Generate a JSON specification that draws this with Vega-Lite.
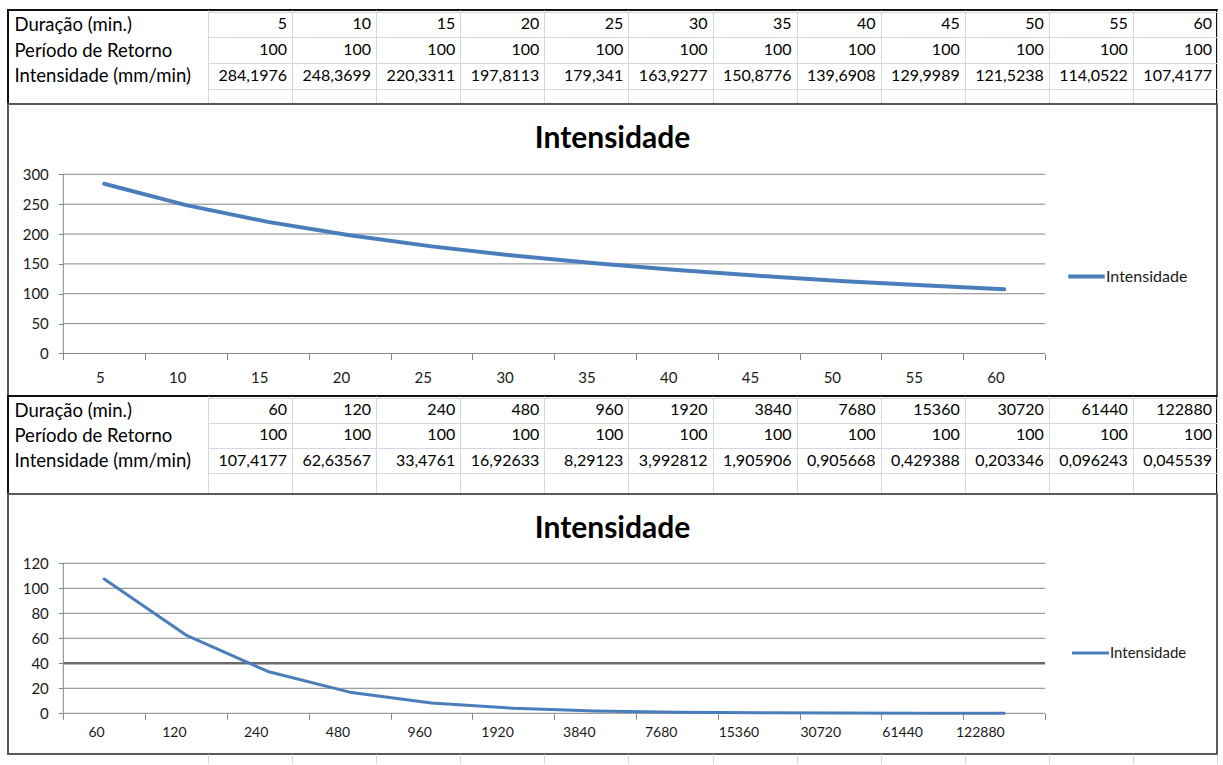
{
  "$schema": "https://vega.github.io/schema/vega-lite/v6.json",
  "background": "white",
  "padding": {"left": 7, "top": 0, "right": 5, "bottom": 0},
  "spacing": 0,
  "bounds": "flush",
  "resolve": {"scale": {"color": "independent"}, "legend": {"color": "independent"}},
  "config": {
    "font": "Lato",
    "view": {"stroke": "#262626", "strokeWidth": 2},
    "axis": {"labelFont": "Lato", "labelColor": "#1a1a1a"},
    "title": {"font": "Lato", "color": "#000000"}
  },
  "datasets": {
    "tabela1": [
      {"linha": "Duração (min.)", "coluna": 1, "valor": "5"},
      {"linha": "Duração (min.)", "coluna": 2, "valor": "10"},
      {"linha": "Duração (min.)", "coluna": 3, "valor": "15"},
      {"linha": "Duração (min.)", "coluna": 4, "valor": "20"},
      {"linha": "Duração (min.)", "coluna": 5, "valor": "25"},
      {"linha": "Duração (min.)", "coluna": 6, "valor": "30"},
      {"linha": "Duração (min.)", "coluna": 7, "valor": "35"},
      {"linha": "Duração (min.)", "coluna": 8, "valor": "40"},
      {"linha": "Duração (min.)", "coluna": 9, "valor": "45"},
      {"linha": "Duração (min.)", "coluna": 10, "valor": "50"},
      {"linha": "Duração (min.)", "coluna": 11, "valor": "55"},
      {"linha": "Duração (min.)", "coluna": 12, "valor": "60"},
      {"linha": "Período de Retorno", "coluna": 1, "valor": "100"},
      {"linha": "Período de Retorno", "coluna": 2, "valor": "100"},
      {"linha": "Período de Retorno", "coluna": 3, "valor": "100"},
      {"linha": "Período de Retorno", "coluna": 4, "valor": "100"},
      {"linha": "Período de Retorno", "coluna": 5, "valor": "100"},
      {"linha": "Período de Retorno", "coluna": 6, "valor": "100"},
      {"linha": "Período de Retorno", "coluna": 7, "valor": "100"},
      {"linha": "Período de Retorno", "coluna": 8, "valor": "100"},
      {"linha": "Período de Retorno", "coluna": 9, "valor": "100"},
      {"linha": "Período de Retorno", "coluna": 10, "valor": "100"},
      {"linha": "Período de Retorno", "coluna": 11, "valor": "100"},
      {"linha": "Período de Retorno", "coluna": 12, "valor": "100"},
      {"linha": "Intensidade (mm/min)", "coluna": 1, "valor": "284,1976"},
      {"linha": "Intensidade (mm/min)", "coluna": 2, "valor": "248,3699"},
      {"linha": "Intensidade (mm/min)", "coluna": 3, "valor": "220,3311"},
      {"linha": "Intensidade (mm/min)", "coluna": 4, "valor": "197,8113"},
      {"linha": "Intensidade (mm/min)", "coluna": 5, "valor": "179,341"},
      {"linha": "Intensidade (mm/min)", "coluna": 6, "valor": "163,9277"},
      {"linha": "Intensidade (mm/min)", "coluna": 7, "valor": "150,8776"},
      {"linha": "Intensidade (mm/min)", "coluna": 8, "valor": "139,6908"},
      {"linha": "Intensidade (mm/min)", "coluna": 9, "valor": "129,9989"},
      {"linha": "Intensidade (mm/min)", "coluna": 10, "valor": "121,5238"},
      {"linha": "Intensidade (mm/min)", "coluna": 11, "valor": "114,0522"},
      {"linha": "Intensidade (mm/min)", "coluna": 12, "valor": "107,4177"}
    ],
    "tabela2": [
      {"linha": "Duração (min.)", "coluna": 1, "valor": "60"},
      {"linha": "Duração (min.)", "coluna": 2, "valor": "120"},
      {"linha": "Duração (min.)", "coluna": 3, "valor": "240"},
      {"linha": "Duração (min.)", "coluna": 4, "valor": "480"},
      {"linha": "Duração (min.)", "coluna": 5, "valor": "960"},
      {"linha": "Duração (min.)", "coluna": 6, "valor": "1920"},
      {"linha": "Duração (min.)", "coluna": 7, "valor": "3840"},
      {"linha": "Duração (min.)", "coluna": 8, "valor": "7680"},
      {"linha": "Duração (min.)", "coluna": 9, "valor": "15360"},
      {"linha": "Duração (min.)", "coluna": 10, "valor": "30720"},
      {"linha": "Duração (min.)", "coluna": 11, "valor": "61440"},
      {"linha": "Duração (min.)", "coluna": 12, "valor": "122880"},
      {"linha": "Período de Retorno", "coluna": 1, "valor": "100"},
      {"linha": "Período de Retorno", "coluna": 2, "valor": "100"},
      {"linha": "Período de Retorno", "coluna": 3, "valor": "100"},
      {"linha": "Período de Retorno", "coluna": 4, "valor": "100"},
      {"linha": "Período de Retorno", "coluna": 5, "valor": "100"},
      {"linha": "Período de Retorno", "coluna": 6, "valor": "100"},
      {"linha": "Período de Retorno", "coluna": 7, "valor": "100"},
      {"linha": "Período de Retorno", "coluna": 8, "valor": "100"},
      {"linha": "Período de Retorno", "coluna": 9, "valor": "100"},
      {"linha": "Período de Retorno", "coluna": 10, "valor": "100"},
      {"linha": "Período de Retorno", "coluna": 11, "valor": "100"},
      {"linha": "Período de Retorno", "coluna": 12, "valor": "100"},
      {"linha": "Intensidade (mm/min)", "coluna": 1, "valor": "107,4177"},
      {"linha": "Intensidade (mm/min)", "coluna": 2, "valor": "62,63567"},
      {"linha": "Intensidade (mm/min)", "coluna": 3, "valor": "33,4761"},
      {"linha": "Intensidade (mm/min)", "coluna": 4, "valor": "16,92633"},
      {"linha": "Intensidade (mm/min)", "coluna": 5, "valor": "8,29123"},
      {"linha": "Intensidade (mm/min)", "coluna": 6, "valor": "3,992812"},
      {"linha": "Intensidade (mm/min)", "coluna": 7, "valor": "1,905906"},
      {"linha": "Intensidade (mm/min)", "coluna": 8, "valor": "0,905668"},
      {"linha": "Intensidade (mm/min)", "coluna": 9, "valor": "0,429388"},
      {"linha": "Intensidade (mm/min)", "coluna": 10, "valor": "0,203346"},
      {"linha": "Intensidade (mm/min)", "coluna": 11, "valor": "0,096243"},
      {"linha": "Intensidade (mm/min)", "coluna": 12, "valor": "0,045539"}
    ],
    "tabela3": [
      {"coluna": 1, "valor": ""}, {"coluna": 2, "valor": ""}, {"coluna": 3, "valor": ""},
      {"coluna": 4, "valor": ""}, {"coluna": 5, "valor": ""}, {"coluna": 6, "valor": ""},
      {"coluna": 7, "valor": ""}, {"coluna": 8, "valor": ""}, {"coluna": 9, "valor": ""},
      {"coluna": 10, "valor": ""}, {"coluna": 11, "valor": ""}, {"coluna": 12, "valor": ""}
    ],
    "serie1": [
      {"duracao": "5", "intensidade": 284.1976, "serie": "Intensidade"},
      {"duracao": "10", "intensidade": 248.3699, "serie": "Intensidade"},
      {"duracao": "15", "intensidade": 220.3311, "serie": "Intensidade"},
      {"duracao": "20", "intensidade": 197.8113, "serie": "Intensidade"},
      {"duracao": "25", "intensidade": 179.341, "serie": "Intensidade"},
      {"duracao": "30", "intensidade": 163.9277, "serie": "Intensidade"},
      {"duracao": "35", "intensidade": 150.8776, "serie": "Intensidade"},
      {"duracao": "40", "intensidade": 139.6908, "serie": "Intensidade"},
      {"duracao": "45", "intensidade": 129.9989, "serie": "Intensidade"},
      {"duracao": "50", "intensidade": 121.5238, "serie": "Intensidade"},
      {"duracao": "55", "intensidade": 114.0522, "serie": "Intensidade"},
      {"duracao": "60", "intensidade": 107.4177, "serie": "Intensidade"}
    ],
    "serie2": [
      {"duracao": "60", "intensidade": 107.4177, "serie": "Intensidade"},
      {"duracao": "120", "intensidade": 62.63567, "serie": "Intensidade"},
      {"duracao": "240", "intensidade": 33.4761, "serie": "Intensidade"},
      {"duracao": "480", "intensidade": 16.92633, "serie": "Intensidade"},
      {"duracao": "960", "intensidade": 8.29123, "serie": "Intensidade"},
      {"duracao": "1920", "intensidade": 3.992812, "serie": "Intensidade"},
      {"duracao": "3840", "intensidade": 1.905906, "serie": "Intensidade"},
      {"duracao": "7680", "intensidade": 0.905668, "serie": "Intensidade"},
      {"duracao": "15360", "intensidade": 0.429388, "serie": "Intensidade"},
      {"duracao": "30720", "intensidade": 0.203346, "serie": "Intensidade"},
      {"duracao": "61440", "intensidade": 0.096243, "serie": "Intensidade"},
      {"duracao": "122880", "intensidade": 0.045539, "serie": "Intensidade"}
    ],
    "grade1": [{"v": 0}, {"v": 50}, {"v": 100}, {"v": 150}, {"v": 200}, {"v": 250}, {"v": 300}],
    "grade2": [{"v": 0}, {"v": 20}, {"v": 40}, {"v": 60}, {"v": 80}, {"v": 100}, {"v": 120}]
  },
  "vconcat": [
    {
      "width": 1209,
      "height": 94,
      "data": {"name": "tabela1"},
      "view": {"stroke": "#111111", "strokeWidth": 2},
      "mark": {"type": "text", "align": "right", "baseline": "middle", "dx": 37, "fontSize": 16, "font": "Lato", "color": "#000000"},
      "encoding": {
        "x": {
          "field": "coluna", "type": "ordinal", "title": null,
          "scale": {"type": "band", "paddingInner": 0, "paddingOuter": 0, "range": [200, 1209]},
          "axis": {"labels": false, "ticks": false, "domain": false, "grid": true, "tickBand": "extent", "gridColor": "#d0d8e6", "gridWidth": 1}
        },
        "y": {
          "field": "linha", "type": "ordinal", "title": null,
          "sort": ["Duração (min.)", "Período de Retorno", "Intensidade (mm/min)"],
          "scale": {"type": "band", "paddingInner": 0, "paddingOuter": 0.329, "align": 0.089},
          "axis": {"domain": false, "ticks": false, "grid": true, "tickBand": "extent", "gridColor": "#d0d8e6", "gridWidth": 1, "offset": -200, "labelAlign": "left", "labelPadding": 194, "labelFontSize": 18.5, "labelLimit": 300, "labelColor": "#000000"}
        },
        "text": {"field": "valor"}
      }
    },
    {
      "width": 1209,
      "height": 292,
      "view": {"stroke": "#595959", "strokeWidth": 2},
      "title": {"text": "Intensidade", "anchor": "middle", "frame": "group", "offset": -50, "fontSize": 30, "fontWeight": "bold"},
      "layer": [
        {
          "data": {"name": "grade1"},
          "mark": {"type": "rule", "color": "#868686", "strokeWidth": 1},
          "encoding": {
            "x": {"datum": "5", "type": "ordinal", "bandPosition": 0},
            "x2": {"datum": "60", "bandPosition": 1},
            "y": {"field": "v", "type": "quantitative"}
          }
        },
        {
          "data": {"name": "grade1"},
          "transform": [{"filter": "datum.v == 0"}],
          "mark": {"type": "rule", "color": "#868686", "strokeWidth": 1},
          "encoding": {
            "x": {"datum": "5", "type": "ordinal", "bandPosition": 0},
            "y": {"datum": 0, "type": "quantitative"},
            "y2": {"datum": 300}
          }
        },
        {
          "data": {"name": "serie1"},
          "mark": {"type": "line", "strokeWidth": 4, "strokeCap": "round", "strokeJoin": "round"},
          "encoding": {
            "x": {
              "field": "duracao", "type": "ordinal", "title": null,
              "scale": {"type": "band", "domain": ["5", "10", "15", "20", "25", "30", "35", "40", "45", "50", "55", "60"], "paddingInner": 0, "paddingOuter": 0, "range": [55.3, 1037.1]},
              "axis": {"offset": -42.5, "domain": false, "grid": false, "tickBand": "extent", "tickSize": 6, "tickColor": "#868686", "labelPadding": 17.5, "labelAngle": 0, "labelFontSize": 15}
            },
            "y": {
              "field": "intensidade", "type": "quantitative", "title": null,
              "scale": {"domain": [-71.2, 417.7], "nice": false, "zero": false},
              "axis": {"values": [0, 50, 100, 150, 200, 250, 300], "offset": -55.3, "domain": false, "grid": false, "tickSize": 5, "tickColor": "#868686", "labelPadding": 10, "labelFontSize": 15}
            },
            "color": {
              "field": "serie", "type": "nominal",
              "scale": {"range": ["#4a7ebb"]},
              "legend": {"orient": "none", "legendX": 1058, "legendY": 152, "title": null, "symbolType": "stroke", "symbolSize": 1330, "symbolStrokeWidth": 4, "labelFontSize": 16, "labelOffset": -1, "labelColor": "#1a1a1a"}
            }
          }
        }
      ]
    },
    {
      "width": 1209,
      "height": 98,
      "data": {"name": "tabela2"},
      "view": {"stroke": "#111111", "strokeWidth": 2},
      "mark": {"type": "text", "align": "right", "baseline": "middle", "dx": 37, "fontSize": 16, "font": "Lato", "color": "#000000"},
      "encoding": {
        "x": {
          "field": "coluna", "type": "ordinal", "title": null,
          "scale": {"type": "band", "paddingInner": 0, "paddingOuter": 0, "range": [200, 1209]},
          "axis": {"labels": false, "ticks": false, "domain": false, "grid": true, "tickBand": "extent", "gridColor": "#d0d8e6", "gridWidth": 1}
        },
        "y": {
          "field": "linha", "type": "ordinal", "title": null,
          "sort": ["Duração (min.)", "Período de Retorno", "Intensidade (mm/min)"],
          "scale": {"type": "band", "paddingInner": 0, "paddingOuter": 0.437, "align": 0.068},
          "axis": {"domain": false, "ticks": false, "grid": true, "tickBand": "extent", "gridColor": "#d0d8e6", "gridWidth": 1, "offset": -200, "labelAlign": "left", "labelPadding": 194, "labelFontSize": 18.5, "labelLimit": 300, "labelColor": "#000000"}
        },
        "text": {"field": "valor"}
      }
    },
    {
      "width": 1209,
      "height": 260,
      "view": {"stroke": "#595959", "strokeWidth": 2},
      "title": {"text": "Intensidade", "anchor": "middle", "frame": "group", "offset": -50, "fontSize": 30, "fontWeight": "bold"},
      "layer": [
        {
          "data": {"name": "grade2"},
          "mark": {"type": "rule", "color": "#868686", "strokeWidth": 1},
          "encoding": {
            "x": {"datum": "60", "type": "ordinal", "bandPosition": 0},
            "x2": {"datum": "122880", "bandPosition": 1},
            "y": {"field": "v", "type": "quantitative"}
          }
        },
        {
          "data": {"name": "grade2"},
          "transform": [{"filter": "datum.v == 40"}],
          "mark": {"type": "rule", "color": "#6a6a6a", "strokeWidth": 2.5},
          "encoding": {
            "x": {"datum": "60", "type": "ordinal", "bandPosition": 0},
            "x2": {"datum": "122880", "bandPosition": 1},
            "y": {"field": "v", "type": "quantitative"}
          }
        },
        {
          "data": {"name": "grade2"},
          "transform": [{"filter": "datum.v == 0"}],
          "mark": {"type": "rule", "color": "#868686", "strokeWidth": 1},
          "encoding": {
            "x": {"datum": "60", "type": "ordinal", "bandPosition": 0},
            "y": {"datum": 0, "type": "quantitative"},
            "y2": {"datum": 120}
          }
        },
        {
          "data": {"name": "serie2"},
          "mark": {"type": "line", "strokeWidth": 3, "strokeCap": "round", "strokeJoin": "round"},
          "encoding": {
            "x": {
              "field": "duracao", "type": "ordinal", "title": null,
              "scale": {"type": "band", "domain": ["60", "120", "240", "480", "960", "1920", "3840", "7680", "15360", "30720", "61440", "122880"], "paddingInner": 0, "paddingOuter": 0, "range": [55.3, 1037.1]},
              "axis": {"offset": -40.7, "domain": false, "grid": false, "tickBand": "extent", "tickSize": 6, "tickColor": "#868686", "labelPadding": 13.5, "labelAngle": 0, "labelFontSize": 14}
            },
            "y": {
              "field": "intensidade", "type": "quantitative", "title": null,
              "scale": {"domain": [-32.56, 175.44], "nice": false, "zero": false},
              "axis": {"values": [0, 20, 40, 60, 80, 100, 120], "offset": -55.3, "domain": false, "grid": false, "tickSize": 5, "tickColor": "#868686", "labelPadding": 10, "labelFontSize": 15}
            },
            "color": {
              "field": "serie", "type": "nominal",
              "scale": {"range": ["#4a7ebb"]},
              "legend": {"orient": "none", "legendX": 1062, "legendY": 138.5, "title": null, "symbolType": "stroke", "symbolSize": 1370, "symbolStrokeWidth": 3, "labelFontSize": 15, "labelOffset": -1, "labelColor": "#1a1a1a"}
            }
          }
        }
      ]
    },
    {
      "width": 1209,
      "height": 10,
      "data": {"name": "tabela3"},
      "view": {"stroke": null},
      "mark": {"type": "text"},
      "encoding": {
        "x": {
          "field": "coluna", "type": "ordinal", "title": null,
          "scale": {"type": "band", "paddingInner": 0, "paddingOuter": 0, "range": [200, 1209]},
          "axis": {"labels": false, "ticks": false, "domain": false, "grid": true, "tickBand": "extent", "gridColor": "#d0d8e6", "gridWidth": 1}
        },
        "text": {"field": "valor"}
      }
    }
  ]
}
